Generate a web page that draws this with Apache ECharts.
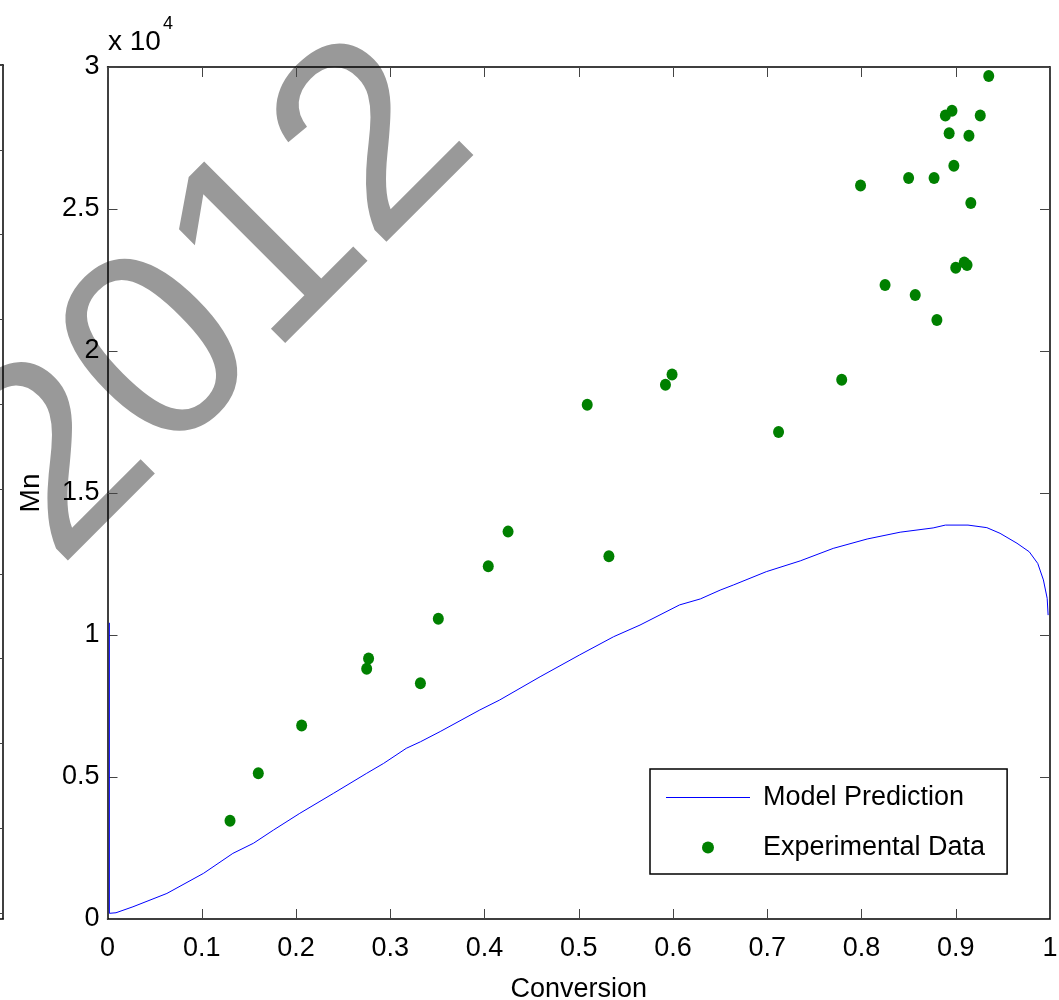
<!DOCTYPE html>
<html>
<head>
<meta charset="utf-8">
<title>Mn vs Conversion</title>
<script src="https://cdn.jsdelivr.net/npm/echarts@6/dist/echarts.min.js"></script>
<style>
  html, body { margin: 0; padding: 0; background: #fff; }
  #chart { width: 1059px; height: 1000px; }
</style>
</head>
<body>
<div id="chart"></div>
<script>
// model prediction curve (conversion, Mn)
const modelX = [0.002, 0.002, 0.009, 0.027, 0.063, 0.102, 0.133, 0.155, 0.176, 0.204, 0.240, 0.275, 0.293, 0.317, 0.332, 0.353, 0.395, 0.416, 0.459, 0.501, 0.537, 0.565, 0.607, 0.629, 0.650, 0.664, 0.699, 0.735, 0.770, 0.806, 0.841, 0.876, 0.889, 0.913, 0.933, 0.947, 0.965, 0.978, 0.987, 0.993, 0.997, 0.998]
const modelY = [10430, 200, 220, 430, 900, 1610, 2310, 2670, 3130, 3720, 4430, 5130, 5480, 6010, 6240, 6600, 7360, 7710, 8530, 9300, 9940, 10350, 11060, 11270, 11580, 11760, 12230, 12610, 13050, 13380, 13620, 13770, 13870, 13870, 13780, 13580, 13230, 12930, 12520, 11940, 11290, 10700]

// experimental points
const expX = [0.130, 0.160, 0.206, 0.275, 0.277, 0.332, 0.351, 0.404, 0.425, 0.509, 0.532, 0.592, 0.599, 0.712, 0.779, 0.799, 0.825, 0.850, 0.857, 0.877, 0.880, 0.889, 0.896, 0.893, 0.898, 0.900, 0.909, 0.912, 0.914, 0.916, 0.926, 0.935]
const expY = [3460, 5130, 6810, 8810, 9170, 8300, 10570, 12420, 13640, 18110, 12770, 18810, 19170, 17150, 18990, 25830, 22320, 26090, 21970, 26090, 21090, 28290, 28460, 27670, 26520, 22930, 23120, 23030, 27580, 25210, 28290, 29680]

const xTicks = [0, 0.1, 0.2, 0.3, 0.4, 0.5, 0.6, 0.7, 0.8, 0.9, 1]
const yTicks = [0, 5000, 10000, 15000, 20000, 25000, 30000]

const seriesNames = ['Model Prediction', 'Experimental Data']

const font = "'Liberation Sans', Arial, sans-serif"
const chart = echarts.init(document.getElementById('chart'), null, { renderer: 'canvas' })

const modelData = modelX.map((x, i) => [x, modelY[i]])
const expData = expX.map((x, i) => [x, expY[i]])

const tickStyle = { show: true, inside: true, length: 10, lineStyle: { color: '#444', width: 1 } }
const lineStyle = { show: true, onZero: false, lineStyle: { color: '#000', width: 1.5 } }

const option = {
    backgroundColor: '#fff',
    animation: false,
    textStyle: { fontFamily: font },
    grid: [
        { left: 107.5, right: 9, top: 67, bottom: 81, outerBoundsMode: 'none', containLabel: false },
        // the cut-off neighbouring plot at the left edge
        { left: -200, width: 203, top: 65, bottom: 81, outerBoundsMode: 'none', containLabel: false }
    ],
    xAxis: [
        {
            type: 'value', gridIndex: 0, position: 'bottom',
            min: xTicks[0], max: xTicks[xTicks.length - 1], interval: 0.1,
            name: 'Conversion', nameLocation: 'middle', nameGap: 57,
            nameTextStyle: { fontSize: 27, color: '#000', fontFamily: font },
            axisLine: lineStyle, axisTick: tickStyle, splitLine: { show: false },
            axisLabel: { fontSize: 27, color: '#000', margin: 16, fontFamily: font }
        },
        {
            type: 'value', gridIndex: 0, position: 'top',
            min: 0, max: 1, interval: 0.1,
            axisLine: lineStyle, axisTick: tickStyle, splitLine: { show: false },
            axisLabel: { show: false }
        },
        {
            type: 'value', gridIndex: 1, position: 'bottom', min: 0, max: 1,
            axisLine: lineStyle, axisTick: { show: false }, axisLabel: { show: false }, splitLine: { show: false }
        },
        {
            type: 'value', gridIndex: 1, position: 'top', min: 0, max: 1,
            axisLine: lineStyle, axisTick: { show: false }, axisLabel: { show: false }, splitLine: { show: false }
        }
    ],
    yAxis: [
        {
            type: 'value', gridIndex: 0, position: 'left',
            min: yTicks[0], max: yTicks[yTicks.length - 1], interval: 5000,
            name: 'Mn', nameLocation: 'middle', nameGap: 62,
            nameTextStyle: { fontSize: 28, color: '#000', fontFamily: font },
            axisLine: lineStyle, axisTick: tickStyle, splitLine: { show: false },
            axisLabel: {
                fontSize: 27, color: '#000', margin: 8, fontFamily: font,
                formatter: v => String(v / 10000)
            }
        },
        {
            type: 'value', gridIndex: 0, position: 'right',
            min: 0, max: 30000, interval: 5000,
            axisLine: lineStyle, axisTick: tickStyle, splitLine: { show: false },
            axisLabel: { show: false }
        },
        {
            type: 'value', gridIndex: 1, position: 'right', inverse: true,
            min: 0, max: 10.07, interval: 1,
            axisLine: lineStyle, axisTick: { show: true, inside: true, length: 3, lineStyle: { color: '#444' } },
            axisLabel: { show: false }, splitLine: { show: false }
        }
    ],
    legend: {
        orient: 'vertical',
        left: 650, top: 769,
        padding: [15, 22, 13, 16],
        itemGap: 23,
        itemWidth: 84, itemHeight: 12,
        borderColor: '#000', borderWidth: 1.5,
        backgroundColor: '#fff',
        selectedMode: false,
        textStyle: { fontSize: 27, color: '#000', fontFamily: font, padding: [0, 0, 0, 8] },
        data: [
            { name: seriesNames[0], icon: 'path://M0,0 L84,0 L84,1 L0,1 Z' },
            { name: seriesNames[1] }
        ]
    },
    graphic: [
        {
            type: 'text', z: -10, x: 218, y: 305, rotation: Math.PI / 4,
            style: {
                text: '2012', fill: '#999', font: '270px ' + font,
                align: 'center', verticalAlign: 'middle'
            }
        },
        {
            type: 'text', left: 108, top: 28,
            style: { text: 'x 10', fill: '#000', font: '28px ' + font }
        },
        {
            type: 'text', left: 163, top: 15,
            style: { text: '4', fill: '#000', font: '18px ' + font }
        }
    ],
    series: [
        {
            name: seriesNames[0], type: 'line', xAxisIndex: 0, yAxisIndex: 0,
            data: modelData, symbol: 'none', showSymbol: false,
            lineStyle: { color: '#0000ff', width: 1 },
            itemStyle: { color: '#0000ff' },
            z: 3
        },
        {
            name: seriesNames[1], type: 'scatter', xAxisIndex: 0, yAxisIndex: 0,
            data: expData, symbol: 'circle', symbolSize: [11, 12],
            itemStyle: { color: '#008000', opacity: 1 },
            z: 4
        }
    ]
}
chart.setOption(option)
</script>
</body>
</html>
